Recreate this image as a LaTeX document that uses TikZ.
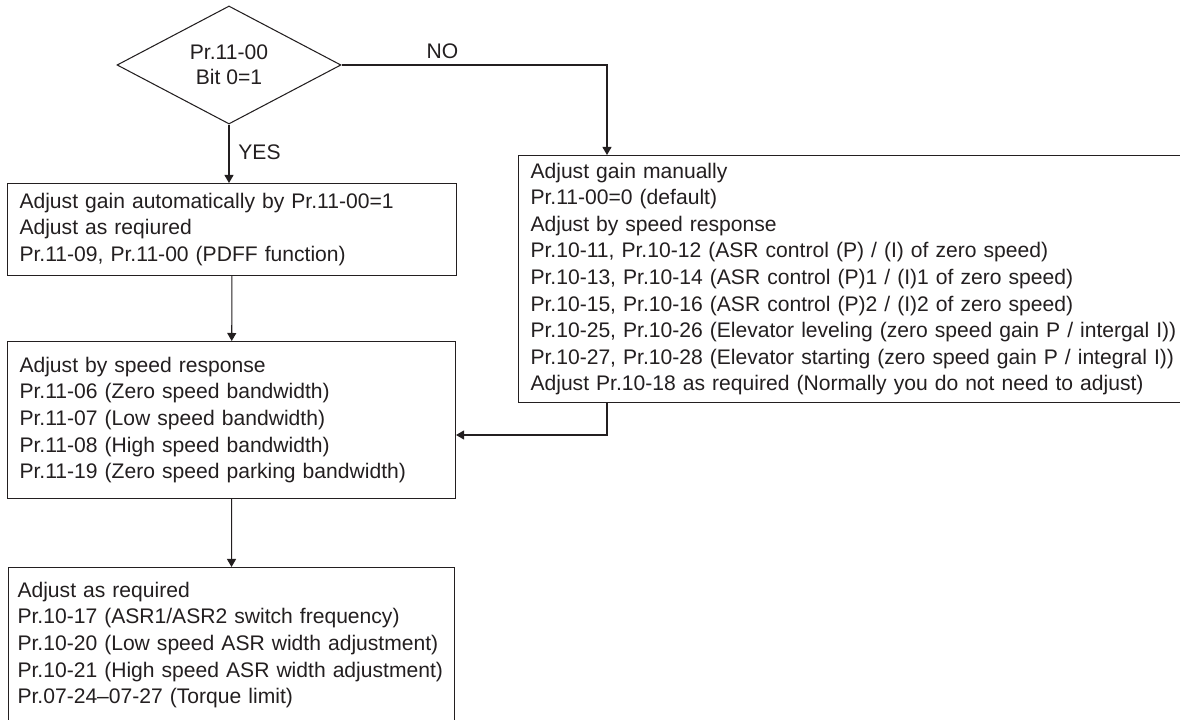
\documentclass[tikz,border=0pt]{standalone}
\usepackage{fontspec}
\setmainfont{Liberation Sans}
\usetikzlibrary{arrows.meta,positioning,shapes.geometric}
\definecolor{FlowInk}{RGB}{35,31,32}
\tikzset{
  flow/box/.style={
    draw=FlowInk,
    line width=0.6pt,
    fill=white,
    anchor=north west,
    align=left,
    text=FlowInk,
    inner xsep=0.24cm,
    inner ysep=0pt,
    font=\fontsize{12}{15.1}\selectfont
  },
  flow/decision/.style={
    diamond,
    draw=FlowInk,
    line width=0.6pt,
    fill=white,
    align=center,
    text=FlowInk,
    inner sep=0pt,
    minimum width=4.48cm,
    minimum height=2.14cm,
    font=\fontsize{12}{14.2}\selectfont
  },
  flow/arrow/.style={-{Triangle[length=0.16cm,width=0.18cm]}, line width=0.6pt, draw=FlowInk},
  flow/label/.style={font=\fontsize{12}{14}\selectfont, text=FlowInk}
}

\begin{document}
\begin{tikzpicture}[x=1cm,y=1cm]
  \clip (0,0) rectangle (23.6,14.4);
  \node[flow/decision] (cond) at (4.58,13.1) {Pr.11-00\\Bit 0=1};
  \node[flow/box,minimum width=8.98cm,minimum height=1.84cm,text width=8.5cm] (auto) at (0.14,10.74)
    {Adjust gain automatically by Pr.11-00=1\\
     Adjust as reqiured\\
     Pr.11-09, Pr.11-00 (PDFF function)};
  \node[flow/box,minimum width=8.96cm,minimum height=3.14cm,text width=8.48cm] (speed) at (0.14,7.58)
    {Adjust by speed response\\
     Pr.11-06 (Zero speed bandwidth)\\
     Pr.11-07 (Low speed bandwidth)\\
     Pr.11-08 (High speed bandwidth)\\
     Pr.11-19 (Zero speed parking bandwidth)};
  \node[flow/box,minimum width=8.92cm,minimum height=3.1cm,inner xsep=0.18cm,text width=8.56cm] (tune) at (0.16,3.06)
    {Adjust as required\\
     Pr.10-17 (ASR1/ASR2 switch frequency)\\
     Pr.10-20 (Low speed ASR width adjustment)\\
     Pr.10-21 (High speed ASR width adjustment)\\
     Pr.07-24--07-27 (Torque limit)};
  \node[flow/box,minimum width=13.54cm,minimum height=4.94cm,text width=13.06cm] (manual) at (10.36,11.3)
    {Adjust gain manually\\
     Pr.11-00=0 (default)\\
     Adjust by speed response\\
     Pr.10-11, Pr.10-12 (ASR control (P) / (I) of zero speed)\\
     Pr.10-13, Pr.10-14 (ASR control (P)1 / (I)1 of zero speed)\\
     Pr.10-15, Pr.10-16 (ASR control (P)2 / (I)2 of zero speed)\\
     Pr.10-25, Pr.10-26 (Elevator leveling (zero speed gain P / intergal I))\\
     Pr.10-27, Pr.10-28 (Elevator starting (zero speed gain P / integral I))\\
     Adjust Pr.10-18 as required (Normally you do not need to adjust)};
  \coordinate (nojoin) at (12.14,5.7);

  \draw[flow/arrow] (cond.south) -- node[flow/label,anchor=west,xshift=0.06cm,pos=0.48] {YES} (cond.south |- auto.north);
  \draw[flow/arrow] (cond.east) -| node[flow/label,above,pos=0.19] {NO} (nojoin |- manual.north);
  \draw[flow/arrow] (auto) -- (speed);
  \draw[flow/arrow] (nojoin |- manual.south) -- (nojoin) -- (nojoin -| speed.east);
  \draw[flow/arrow] (speed) -- (tune);
\end{tikzpicture}
\end{document}
